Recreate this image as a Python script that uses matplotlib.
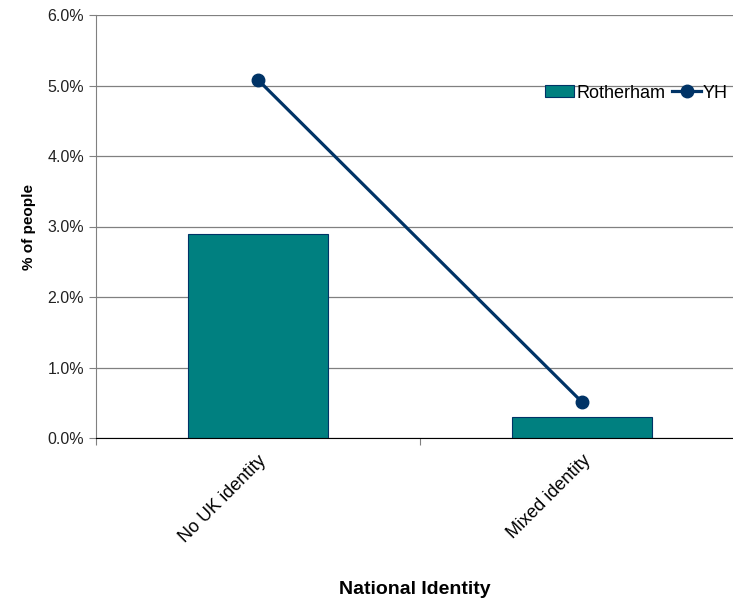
import matplotlib
matplotlib.use('Agg')
import matplotlib.pyplot as plt
from matplotlib.ticker import PercentFormatter

categories = ['No UK identity', 'Mixed identity']
rotherham = [2.9, 0.3]
yh = [5.08, 0.51]

plt.rcParams['font.family'] = ['Liberation Sans', 'DejaVu Sans']

fig = plt.figure(figsize=(7.33, 6.03), dpi=100)
ax = fig.add_axes([96 / 733, 165 / 603, 648 / 733, 423 / 603])

x = range(len(categories))
bars = ax.bar(x, rotherham, width=140 / 324, color='#008080', edgecolor='#003366',
              linewidth=0.8, label='Rotherham', zorder=2)
line, = ax.plot(x, yh, color='#003366', linewidth=2.3, marker='o', markersize=9,
                label='YH', zorder=3)

ax.set_xlim(-0.5, 1.5)
ax.set_ylim(0, 6)
ax.set_yticks([0, 1, 2, 3, 4, 5, 6])
ax.yaxis.set_major_formatter(PercentFormatter(decimals=1))
ax.set_xticks([-0.5, 0.5, 1.5])
ax.set_xticklabels([])
ax.set_xticks(list(x), labels=categories, minor=True)
ax.tick_params(axis='x', which='minor', length=0, pad=10, labelsize=13)
for lbl in ax.get_xticklabels(minor=True):
    lbl.set_rotation(45)
    lbl.set_ha('right')
    lbl.set_rotation_mode('anchor')
ax.tick_params(axis='x', which='major', direction='out', length=5, color='#808080')
ax.tick_params(axis='y', direction='out', length=5, color='#808080', labelsize=11.5,
               labelcolor='#222222')

ax.grid(axis='y', color='#808080', linewidth=0.9, zorder=0)
ax.set_axisbelow(True)
for side in ['top', 'right']:
    ax.spines[side].set_visible(False)
ax.spines['left'].set_color('#808080')
ax.spines['bottom'].set_color('#000000')

ax.set_ylabel('% of people', fontweight='bold', fontsize=11, labelpad=8)
fig.text(415 / 733, 1 - 590 / 603, 'National Identity', fontweight='bold',
         fontsize=14, ha='center', va='center')

ax.legend([bars, line], ['Rotherham', 'YH'], loc='center right',
          bbox_to_anchor=(728 / 733, 1 - 93 / 603),
          bbox_transform=fig.transFigure, ncol=2, frameon=False, fontsize=13,
          handlelength=1.6, handleheight=0.6, handletextpad=0.1, columnspacing=0.4,
          borderpad=0, borderaxespad=0)

fig.savefig('out.png', dpi=100)
